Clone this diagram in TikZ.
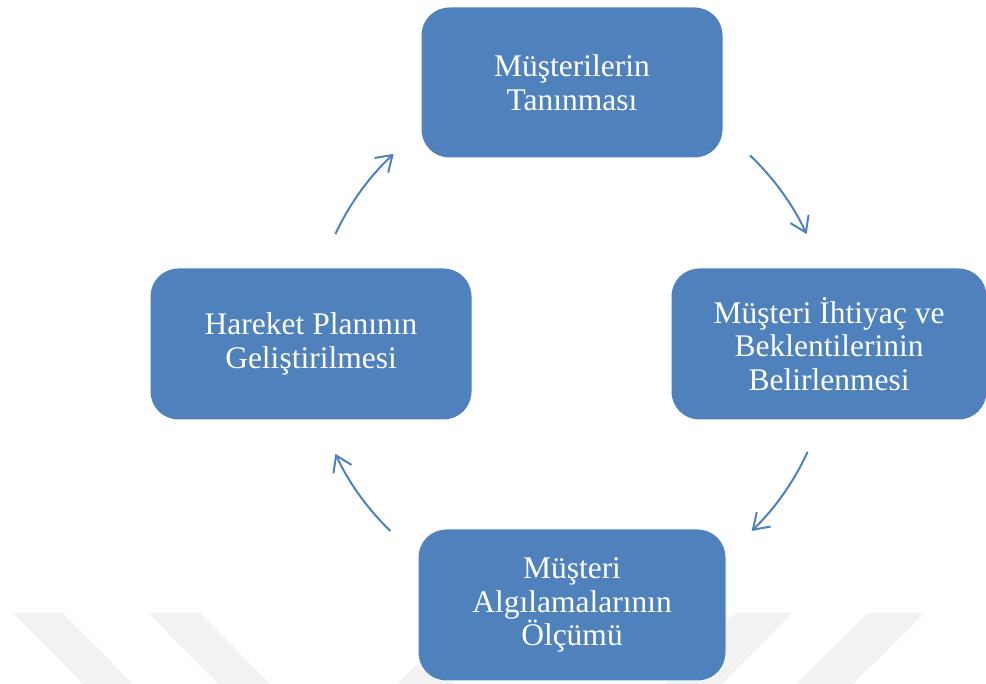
\documentclass[tikz,border=0pt]{standalone}
\usepackage{fontspec}
\setmainfont{Liberation Serif}
\usetikzlibrary{arrows.meta,positioning}
\definecolor{kutumavi}{RGB}{79,129,189}
\definecolor{filigran}{RGB}{242,242,242}
\tikzset{%
	process/.style  = {draw=white, line width=1pt, fill=kutumavi, rectangle, rounded corners=28pt, minimum height=152pt, inner sep=0pt, text=white, align=center, font=\fontsize{31.5}{33.5}\selectfont},
	cycarrow/.style = {draw=kutumavi, line width=2pt, -{Straight Barb[length=15pt,width=20pt]}},
	stripe/.style   = {fill=filigran},
}

\begin{document}
\begin{tikzpicture}[x=1pt,y=1pt]
	\useasboundingbox (0,0) rectangle (986,684);
	\clip (0,0) rectangle (986,684);
	
	% watermark
	\fill[stripe] (13,71) -- (63,71) -- (133,0) -- (83,0) -- cycle;
	\fill[stripe] (148,71) -- (200,71) -- (270,0) -- (218,0) -- cycle;
	\fill[stripe] (470,71) -- (525,71) -- (452,0) -- (397,0) -- cycle;
	\fill[stripe] (736,71) -- (792,71) -- (722,0) -- (665,0) -- cycle;
	\fill[stripe] (868,71) -- (925,71) -- (853,0) -- (796,0) -- cycle;
	
	\coordinate (merkez) at (571,340);
	
	\draw[cycarrow] ([shift={(155:260pt)}]merkez) arc[start angle=155, end angle=133, radius=260pt];
	\draw[cycarrow] ([shift={(46.5:260pt)}]merkez) arc[start angle=46.5, end angle=25, radius=260pt];
	\draw[cycarrow] ([shift={(-24.5:260pt)}]merkez) arc[start angle=-24.5, end angle=-46, radius=260pt];
	\draw[cycarrow] ([shift={(226:260pt)}]merkez) arc[start angle=226, end angle=205, radius=260pt];
	
	\node[process, minimum width=302pt, minimum height=151pt] (tanima) at (572,601.5) {Müşterilerin\\Tanınması};
	\node[process, minimum width=316pt] (beklenti) at (829,340) {Müşteri İhtiyaç ve\\Beklentilerinin\\Belirlenmesi};
	\node[process, minimum width=308pt] (olcum) at (572,79) {Müşteri\\Algılamalarının\\Ölçümü};
	\node[process, minimum width=322pt] (plan) at (311,340) {Hareket Planının\\Geliştirilmesi};
\end{tikzpicture}
\end{document}
